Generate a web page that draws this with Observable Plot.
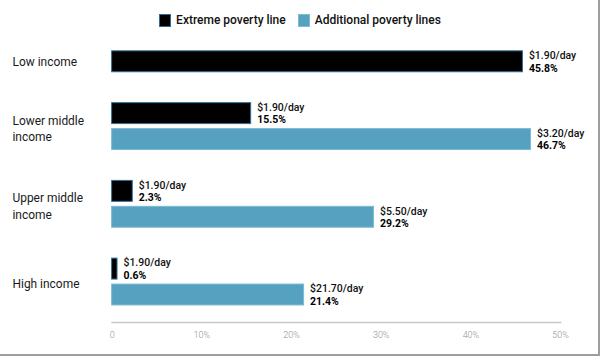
<!DOCTYPE html>
<html>
<head>
<meta charset="utf-8">
<script src="https://cdn.jsdelivr.net/npm/d3@7"></script>
<script src="https://cdn.jsdelivr.net/npm/@observablehq/plot@0.6"></script>
<style>
  html, body { margin: 0; padding: 0; background: #fff; }
  #wrap {
    position: relative; width: 598px; height: 354px; overflow: hidden;
    border-right: 2px solid #9d9d9d; border-bottom: 2px solid #9d9d9d;
    font-family: Roboto, "Noto Sans", sans-serif; background: #fff;
  }
  #legend {
    position: absolute; top: 13px; left: 0; width: 600px;
    display: flex; justify-content: center; align-items: center;
    font-size: 12px; font-weight: 500; color: #111; line-height: 14px;
  }
  .item { display: flex; align-items: center; margin: 0 6px; }
  .sw { width: 12px; height: 13px; margin-right: 5px; box-sizing: border-box; }
  #chart { position: absolute; top: 0; left: 0; }
</style>
</head>
<body>
<div id="wrap">
  <div id="chart"></div>
  <div id="legend"></div>
</div>
<script>
// ---- data ----
const groups = ["Low income", "Lower middle income", "Upper middle income", "High income"];
const groupLabels = ["Low income", "Lower middle\nincome", "Upper middle\nincome", "High income"];
const seriesNames = ["Extreme poverty line", "Additional poverty lines"];
const extremeValues = [45.8, 15.5, 2.3, 0.6];
const extremeLines = ["$1.90/day", "$1.90/day", "$1.90/day", "$1.90/day"];
const additionalValues = [null, 46.7, 29.2, 21.4];
const additionalLines = [null, "$3.20/day", "$5.50/day", "$21.70/day"];
const xTicks = [0, 10, 20, 30, 40, 50];
const xTickLabels = ["0", "10%", "20%", "30%", "40%", "50%"];

const colors = ["#000000", "#57a1c0"];
const strokes = ["#2f6f95", "#7dbbd6"];

// ---- build rows / slots ----
const slots = [];
const rows = [];
groups.forEach((g, i) => {
  slots.push(g + "|ext");
  rows.push({slot: g + "|ext", series: 0, value: extremeValues[i], line: extremeLines[i], pct: extremeValues[i].toFixed(1) + "%"});
  if (additionalValues[i] != null) {
    slots.push(g + "|add");
    rows.push({slot: g + "|add", series: 1, value: additionalValues[i], line: additionalLines[i], pct: additionalValues[i].toFixed(1) + "%"});
  }
  if (i < groups.length - 1) slots.push(g + "|gap");
});
const labelRows = groups.map((g, i) => ({slot: g + "|ext", label: groupLabels[i], two: additionalValues[i] != null}));

// ---- legend ----
const legend = document.getElementById("legend");
seriesNames.forEach((name, i) => {
  const it = document.createElement("div");
  it.className = "item";
  const sw = document.createElement("span");
  sw.className = "sw";
  sw.style.background = colors[i];
  sw.style.border = "1px solid " + strokes[i];
  it.appendChild(sw);
  const t = document.createElement("span");
  t.textContent = name;
  it.appendChild(t);
  legend.appendChild(it);
});

// ---- chart ----
const chart = Plot.plot({
  width: 600,
  height: 358,
  marginLeft: 112,
  marginRight: 38,
  marginTop: 0,
  marginBottom: 35,
  style: {fontFamily: "Roboto, 'Noto Sans', sans-serif", background: "transparent", overflow: "visible"},
  x: {domain: [0, 50], axis: null, label: null},
  y: {domain: slots, range: [43.5, 313], padding: 0.19, axis: null, label: null},
  marks: [
    Plot.frame({anchor: "bottom", stroke: "#c8c8c8", strokeWidth: 1.5}),
    Plot.axisX(xTicks, {
      tickSize: 0, tickPadding: 9, fontSize: 9, fill: "#8f8f8f", fontWeight: 300,
      label: null,
      tickFormat: d => xTickLabels[xTicks.indexOf(d)]
    }),
    Plot.barX(rows, {
      x: "value", y: "slot",
      fill: d => colors[d.series], stroke: d => strokes[d.series], strokeWidth: 1
    }),
    Plot.text(rows, {
      x: "value", y: "slot", text: "line", dx: 6, dy: -6,
      textAnchor: "start", fontSize: 10.5, fontWeight: 500, fill: "#111"
    }),
    Plot.text(rows, {
      x: "value", y: "slot", text: "pct", dx: 6, dy: 6.5,
      textAnchor: "start", fontSize: 10.5, fontWeight: 700, fill: "#000"
    }),
    Plot.text(labelRows.filter(d => !d.two), {
      y: "slot", text: "label", frameAnchor: "left", dx: -100, dy: -1,
      textAnchor: "start", fontSize: 12, fill: "#1a1a1a", lineHeight: 1.35
    }),
    Plot.text(labelRows.filter(d => d.two), {
      y: "slot", text: "label", frameAnchor: "left", dx: -100, dy: 14,
      textAnchor: "start", fontSize: 12, fill: "#1a1a1a", lineHeight: 1.35
    })
  ]
});
document.getElementById("chart").appendChild(chart);
</script>
</body>
</html>
